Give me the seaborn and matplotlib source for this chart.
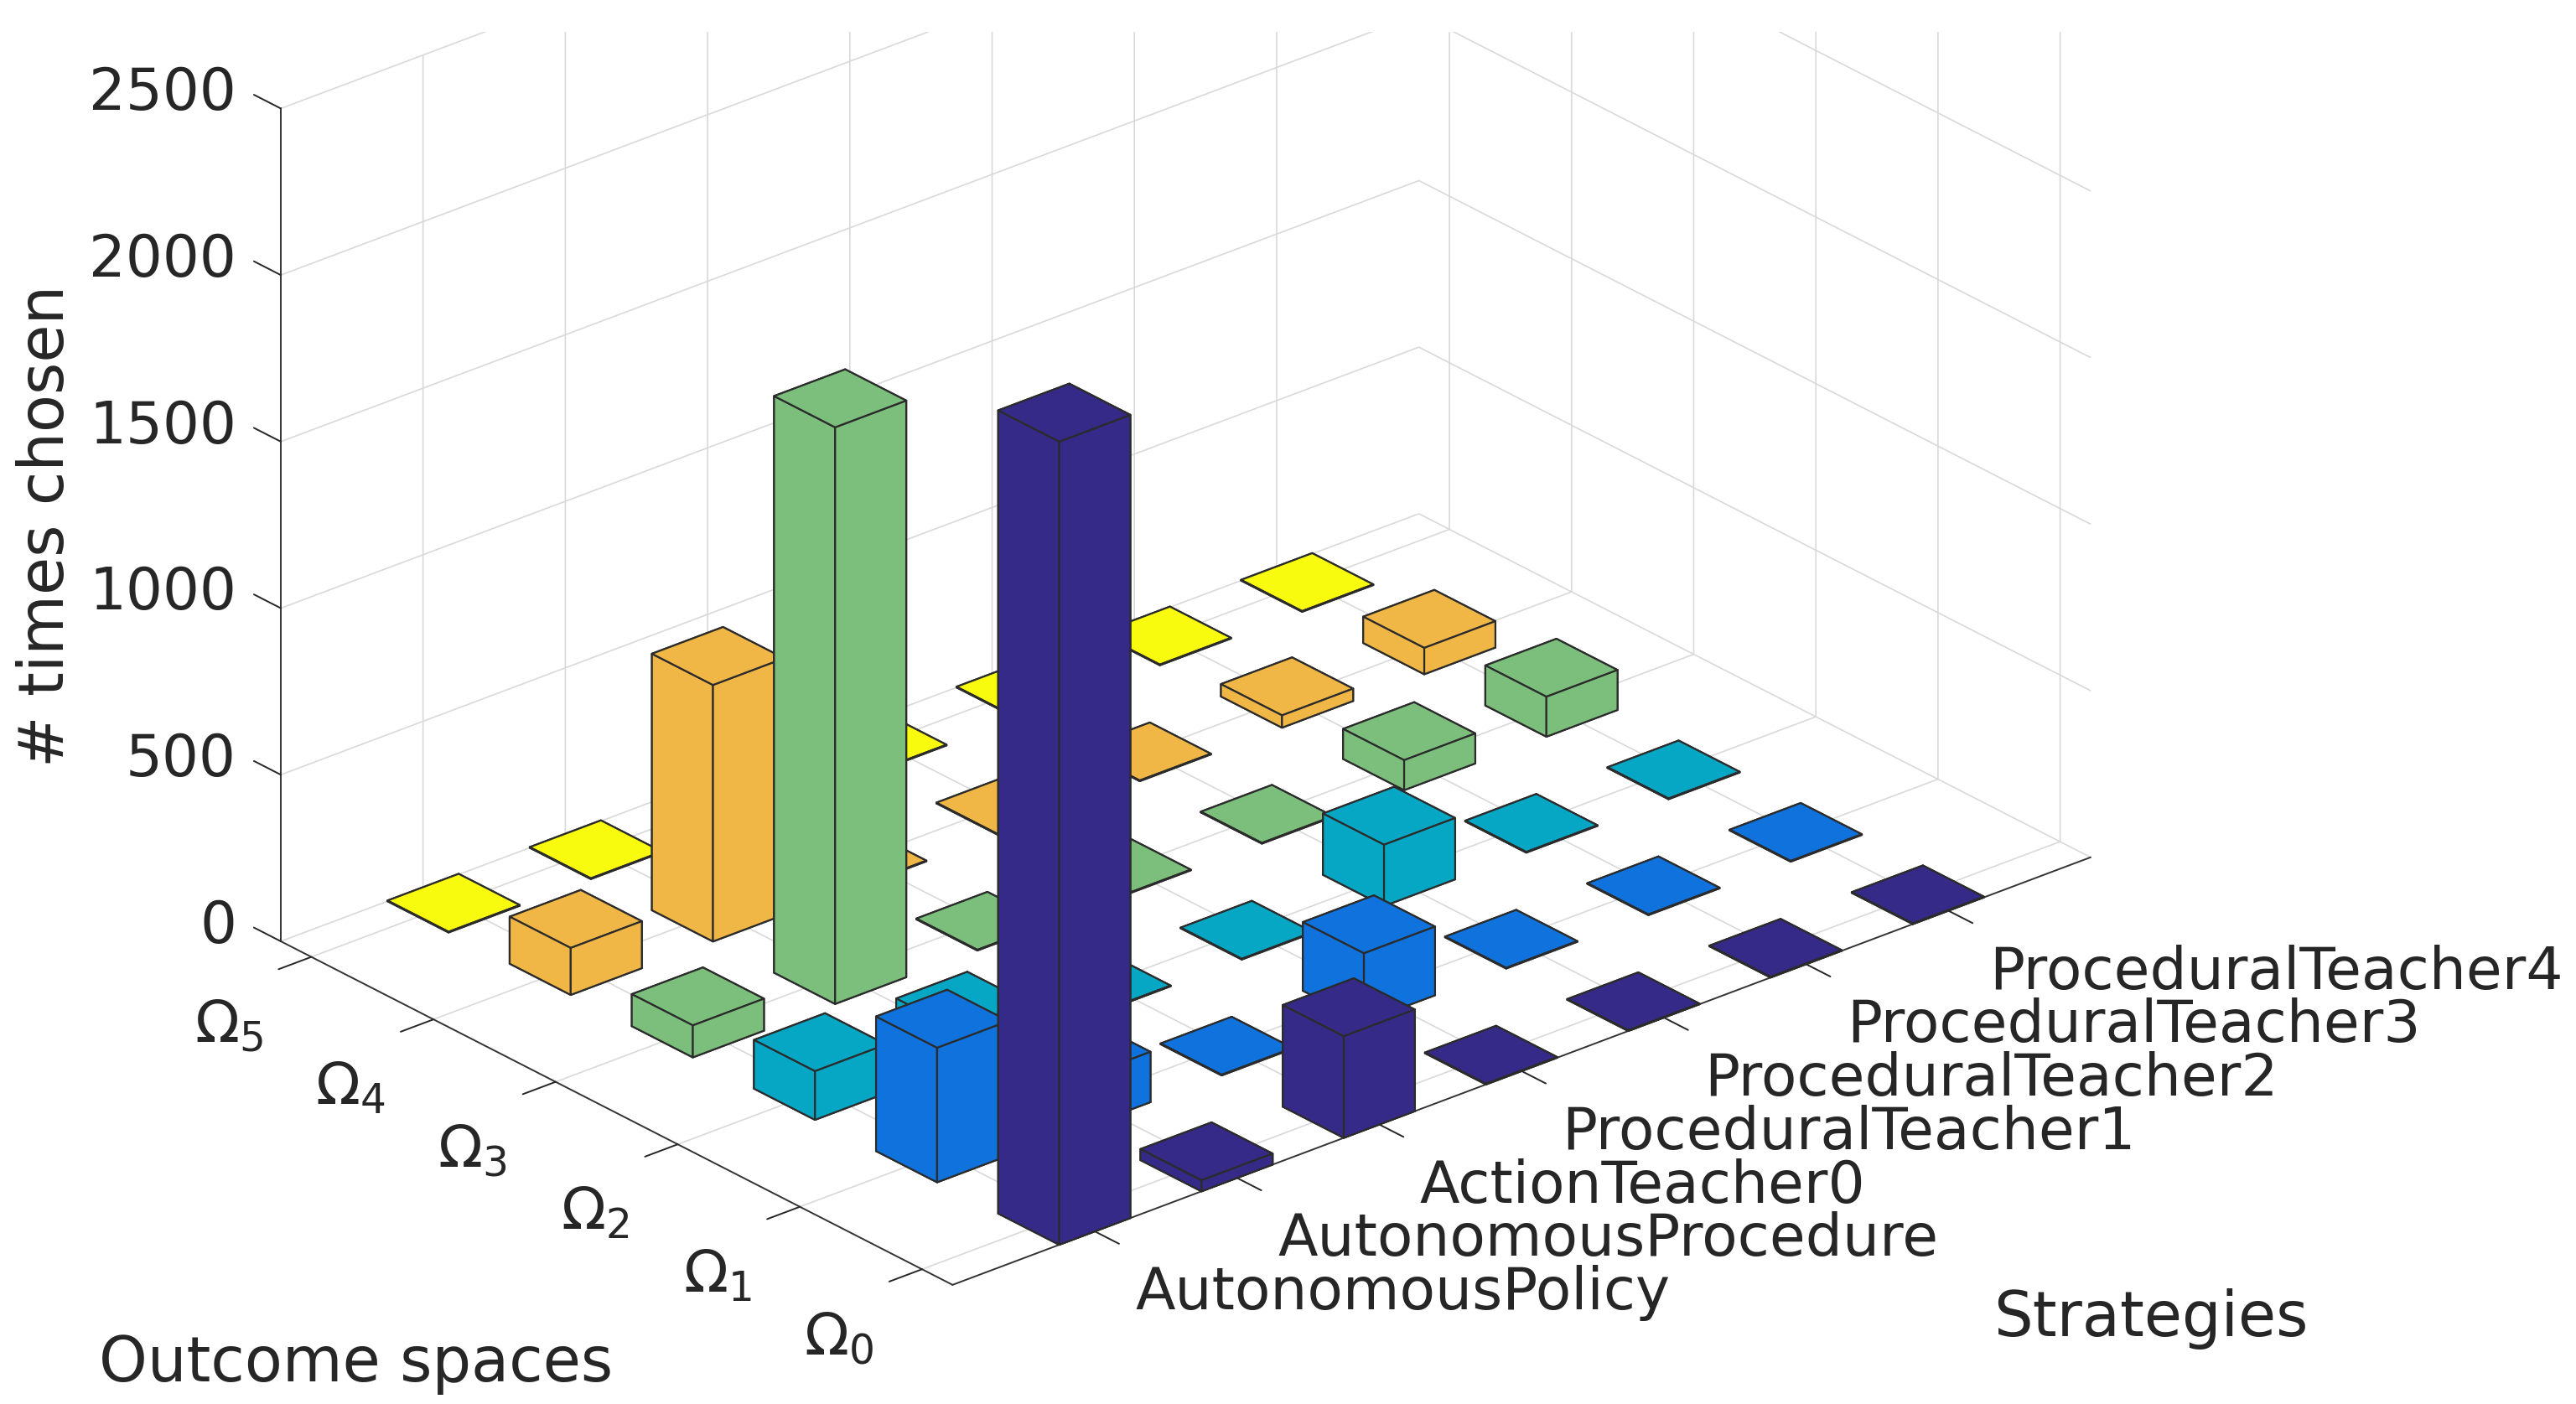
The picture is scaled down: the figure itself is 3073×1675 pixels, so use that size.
import matplotlib
matplotlib.use("Agg")
import matplotlib.pyplot as plt
from matplotlib.patches import Rectangle
from matplotlib.transforms import Affine2D
from mpl_toolkits.mplot3d import proj3d
import numpy as np
import seaborn as sns

strategies = ["AutonomousPolicy", "AutonomousProcedure", "ActionTeacher0",
              "ProceduralTeacher1", "ProceduralTeacher2", "ProceduralTeacher3",
              "ProceduralTeacher4"]
spaces = [r"$\Omega_0$", r"$\Omega_1$", r"$\Omega_2$", r"$\Omega_3$", r"$\Omega_4$", r"$\Omega_5$"]
omega0 = [2411, 33, 305, 2, 2, 2, 2]
omega1 = [404, 151, 2, 206, 2, 2, 2]
omega2 = [146, 110, 2, 2, 184, 2, 2]
omega3 = [96, 1731, 2, 2, 2, 90, 120]
omega4 = [141, 770, 2, 2, 2, 37, 79]
omega5 = [2, 2, 2, 2, 2, 2, 2]
rows = [omega0, omega1, omega2, omega3, omega4, omega5]
colors = ["#352A87", "#0F72DD", "#06A7C4", "#7CBE7C", "#F0B646", "#F9FB0E"]
z_ticks = [0, 500, 1000, 1500, 2000, 2500]

W, H = 3073, 1675
sns.set_theme(style="white", font="DejaVu Sans")
palette = sns.color_palette(colors)
FS_X = 50
FS_Y = 50
FS_Z = 49.8
FS_LABEL = 53
TXT = "#262626"

fig = plt.figure(figsize=(W / 100, H / 100), dpi=100)
ax = fig.add_subplot(projection="3d", proj_type="ortho", computed_zorder=False)
ax.set_box_aspect((1789, 1232, 1106))
ax.view_init(elev=26, azim=-130.6)
ax.set_xlim(0, 8, view_margin=0)
ax.set_ylim(0.75, 6.25, view_margin=0)
ax.set_zlim(0, 2500, view_margin=0)

width = 0.5
order = 0
for r in range(len(rows) - 1, -1, -1):
    for s in range(len(strategies) - 1, -1, -1):
        order += 1
        ax.bar3d(s + 1 - width / 2, r + 1 - width / 2, 0, width, width, rows[r][s],
                 color=palette[r], edgecolor="#2b2b2b", linewidth=1.6, shade=False,
                 zorder=order)

ax.set_xticks(range(1, 8), labels=strategies, fontsize=FS_X, color=TXT)
ax.set_yticks(range(1, 7), labels=spaces, fontsize=FS_Y, color=TXT)
ax.set_zticks(z_ticks, labels=[str(v) for v in z_ticks], fontsize=FS_Z, color=TXT)
ax.zaxis.set_ticks_position("upper")
ax.zaxis._get_tickdir = lambda position: 1   # z ticks run along the y direction
for t in ax.get_xticklabels():
    t.set_ha("left")
for t in ax.get_yticklabels():
    t.set_ha("right")
for t in ax.get_zticklabels():
    t.set_ha("right")
ax.tick_params(axis="x", pad=30)
ax.tick_params(axis="y", pad=23)
ax.tick_params(axis="z", pad=8)


def shift_labels(axis, dx, dy):
    """Axis3D.get_major_ticks resets label transforms, so keep a pixel nudge on top."""
    base = axis.get_major_ticks

    def patched(numticks=None):
        ticks = base(numticks)
        for tick in ticks:
            tick.label1.set_transform(ax.transData + Affine2D().translate(dx, dy))
        return ticks

    axis.get_major_ticks = patched


shift_labels(ax.xaxis, 14, 20)
shift_labels(ax.yaxis, -10, 4)
shift_labels(ax.zaxis, -14, 53)

factors = {ax.xaxis: -0.45, ax.yaxis: -0.36, ax.zaxis: 0.5}
for axis, f in factors.items():
    axis.set_pane_color((1, 1, 1, 0))
    axis.pane.set_edgecolor("none")
    axis.line.set_color("#333333")
    axis.line.set_linewidth(1.4)
    info = axis._axinfo
    info["grid"].update(color="#d9d9d9", linewidth=1.2, linestyle="-")
    info["tick"].update(inward_factor=0.0, outward_factor=f, color="#333333",
                        linewidth={True: 1.4, False: 1.0})
ax.grid(True)


# fit the axes box so that the floor corners fall where they do in the reference
def disp(x, y, z):
    px, py, _ = proj3d.proj_transform(x, y, z, ax.get_proj())
    return ax.transData.transform((px, py))


S0 = 1000.0
ax.set_position([0, 0, S0 / W, S0 / H])
fig.canvas.draw()
a, b = disp(0, 6.25, 0), disp(8, 0.75, 0)
k = (2494 - 335) / (b[0] - a[0])
S = S0 * k
ax.set_position([0, 0, S / W, S / H])
fig.canvas.draw()
a = disp(0, 6.25, 0)
l, bt = 335 - a[0], (H - 1123) - a[1]
ax.set_position([l / W, bt / H, S / W, S / H])

fig.add_artist(Rectangle((0, (H - 38) / H), 1, 38 / H, transform=fig.transFigure,
                         facecolor="white", edgecolor="none", zorder=10))
fig.text(118 / W, 1 - 1627 / H, "Outcome spaces", fontsize=FS_LABEL, color=TXT, ha="left", va="center", zorder=11)
fig.text(2378 / W, 1 - 1574 / H, "Strategies", fontsize=FS_LABEL, color=TXT, ha="left", va="center", zorder=11)
fig.text(56 / W, 1 - 627 / H, "# times chosen", fontsize=FS_LABEL, color=TXT, rotation=90,
         ha="center", va="center", zorder=11)
fig.savefig("out.png", dpi=100)
